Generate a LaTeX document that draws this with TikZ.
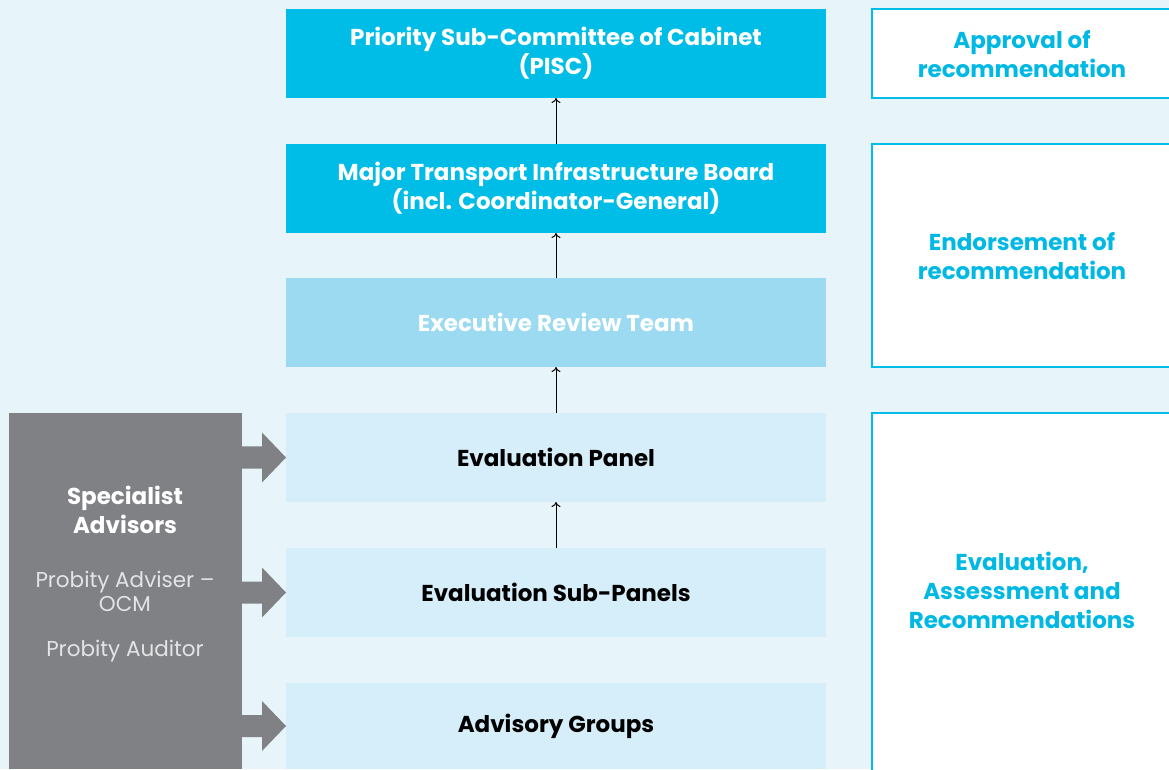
\documentclass[tikz,border=0pt]{standalone}
\usepackage{fontspec}
\setmainfont{Poppins}
\usetikzlibrary{arrows.meta,calc}
\definecolor{bg}{HTML}{E7F4FA}
\definecolor{cyanD}{HTML}{00BDE7}
\definecolor{cyanM}{HTML}{9BDAF1}
\definecolor{cyanL}{HTML}{D5EEF9}
\definecolor{grayB}{HTML}{808184}
\definecolor{grayT}{HTML}{E4E4E6}
\definecolor{cyanTxt}{HTML}{00B8E4}
\begin{document}
\begin{tikzpicture}[x=1pt,y=1pt,
  level/.style={minimum width=540pt,minimum height=89pt,inner sep=0pt,outer sep=0pt,align=center,font=\fontsize{23}{29}\selectfont\bfseries},
  topbox/.style={level,fill=cyanD,text=white},
  midbox/.style={level,fill=cyanM,text=white},
  lowbox/.style={level,fill=cyanL,text=black},
  sidebox/.style={draw=cyanD,line width=1.5pt,fill=white,inner sep=0pt,outer sep=0pt},
  sidetxt/.style={align=center,text=cyanTxt,font=\fontsize{23}{29}\selectfont\bfseries},
  up/.style={-{To[length=5pt,width=9pt]},line width=1pt,black},
  fat/.style={fill=grayB}
]
\useasboundingbox (0,0) rectangle (1169,769);
\fill[bg] (0,0) rectangle (1169,769);

% main column
\node[topbox] (pisc) at (556,715.5) {Priority Sub-Committee of Cabinet\\(PISC)};
\node[topbox] (mtib) at (556,580.5) {Major Transport Infrastructure Board\\(incl. Coordinator-General)};
\node[midbox] (ert) at (556,446.5) {Executive Review Team};
\node[lowbox] (ep) at (556,311.5) {Evaluation Panel};
\node[lowbox] (esp) at (556,176.5) {Evaluation Sub-Panels};
\node[lowbox,minimum height=86pt] (ag) at (556,43) {Advisory Groups};

% connectors
\draw[up] (esp.north) -- (ep.south);
\draw[up] (ep.north) -- (ert.south);
\draw[up] (ert.north) -- (mtib.south);
\draw[up] (mtib.north) -- (pisc.south);

% right side boxes
\draw[sidebox] (872,671) rectangle (1180,760);
\node[sidetxt] (r1) at (1022,714.5) {Approval of\\recommendation};
\draw[sidebox] (872,402) rectangle (1180,625);
\node[sidetxt] (r2) at (1022,512.5) {Endorsement of\\recommendation};
\draw[sidebox] (872,-20) rectangle (1180,356);
\node[sidetxt] (r3) at (1022,179) {Evaluation,\\Assessment and\\Recommendations};

% specialist advisors
\node[fill=grayB,minimum width=233pt,minimum height=356pt,inner sep=0pt,outer sep=0pt] (sa) at (125.5,178) {};
\node[align=center,text=white,font=\fontsize{23}{29}\selectfont\bfseries] (sat) at (125,259.5) {Specialist\\Advisors};
\node[align=center,text=grayT,font=\fontsize{21.5}{24}\selectfont] (pa) at (125,178) {Probity Adviser –\\OCM};
\node[align=center,text=grayT,font=\fontsize{21.5}{24}\selectfont] (pau) at (125,118) {Probity Auditor};

% fat arrows
\foreach \t in {ep,esp,ag}{
  \fill[fat] (sa.east |- \t.west) ++(-1,11) -- ++(21,0) -- ++(0,14) -- (\t.west) -- ++(-24,-25) -- ++(0,14) -- ++(-21,0) -- cycle;
}
\end{tikzpicture}
\end{document}
